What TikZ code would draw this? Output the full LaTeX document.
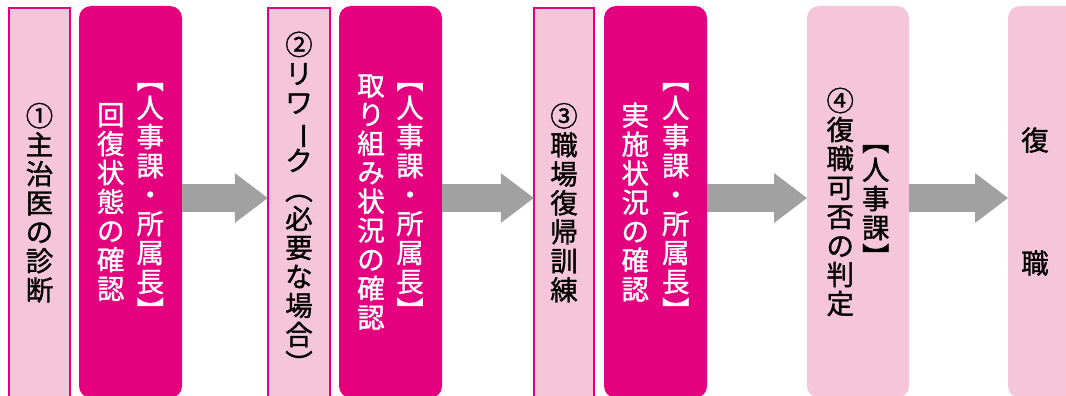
\documentclass[tikz,border=0pt]{standalone}
\usepackage{fontspec}
\usepackage{graphicx}
\newfontfamily\jp[FakeBold=1.2]{Noto Sans CJK JP}
\usetikzlibrary{arrows.meta}
\definecolor{mag}{HTML}{E4007F}
\definecolor{lpink}{HTML}{F5C6DA}
\definecolor{agray}{HTML}{A0A1A0}
\newcommand\vstack[1]{\ensuremath{\vcenter{\baselineskip=29pt\lineskiplimit=-100pt\lineskip=0pt\let\\\cr\halign{\hfil##\hfil\cr#1\crcr}}}}
\newcommand\vbar{\rotatebox[origin=c]{-90}{ー}}
\begin{document}
\begin{tikzpicture}[x=1pt,y=-1pt,
  every node/.style={inner sep=0pt, outer sep=0pt, font=\jp\fontsize{27.5}{29}\selectfont},
  stepA/.style={draw=mag, line width=1.6pt, fill=lpink, text=black, minimum height=390pt},
  stepB/.style={fill=mag, rounded corners=12pt, text=white, minimum width=103pt, minimum height=392pt},
  stepC/.style={fill=lpink, rounded corners=12pt, text=black, minimum width=102pt, minimum height=392pt},
  flow/.style={draw=agray, line width=28pt, -{Triangle[length=33pt,width=50pt,line width=0pt]}}
]
\useasboundingbox (0,0) rectangle (1066,396);
\clip (0,0) rectangle (1066,396);
\node[stepA, minimum width=61.5pt] (b1) at (39.5,202.75) {\vstack{①\\主\\治\\医\\の\\診\\断}};
\node[stepB] (b2) at (130.5,202) {\vstack{回\\復\\状\\態\\の\\確\\認}\hspace{12pt}\vstack{︻\\人\\事\\課\\・\\所\\属\\長\\︼}};
\node[stepA, minimum width=62.5pt] (b3) at (299,202.75) {\vstack{②\\リ\\ワ\\\vbar\\ク\\︵\\必\\要\\な\\場\\合\\︶}};
\node[stepB] (b4) at (390.5,202) {\vstack{取\\り\\組\\み\\状\\況\\の\\確\\認}\hspace{11.5pt}\vstack{︻\\人\\事\\課\\・\\所\\属\\長\\︼}};
\node[stepA, minimum width=60.5pt] (b5) at (564,202.75) {\vstack{③\\職\\場\\復\\帰\\訓\\練}};
\node[stepB] (b6) at (655.5,202) {\vstack{実\\施\\状\\況\\の\\確\\認}\hspace{13pt}\vstack{︻\\人\\事\\課\\・\\所\\属\\長\\︼}};
\node[stepC] (b7) at (858,202) {\raisebox{-4pt}{\vstack{④\\復\\職\\可\\否\\の\\判\\定}}\hspace{8pt}\raisebox{-8pt}{\vstack{︻\\人\\事\\課\\︼}}};
\node[stepC] (b8) at (1059,202) {};
\node (b8t) at (1035,201.5) {\vstack{復\\\noalign{\kern94pt}職}};
\coordinate (ay) at (0,198);
\draw[flow] (b2.east |- ay) -- (b3.west |- ay);
\draw[flow] (b4.east |- ay) -- (b5.west |- ay);
\draw[flow] (b6.east |- ay) -- (b7.west |- ay);
\draw[flow] (b7.east |- ay) -- (b8.west |- ay);
\end{tikzpicture}
\end{document}
